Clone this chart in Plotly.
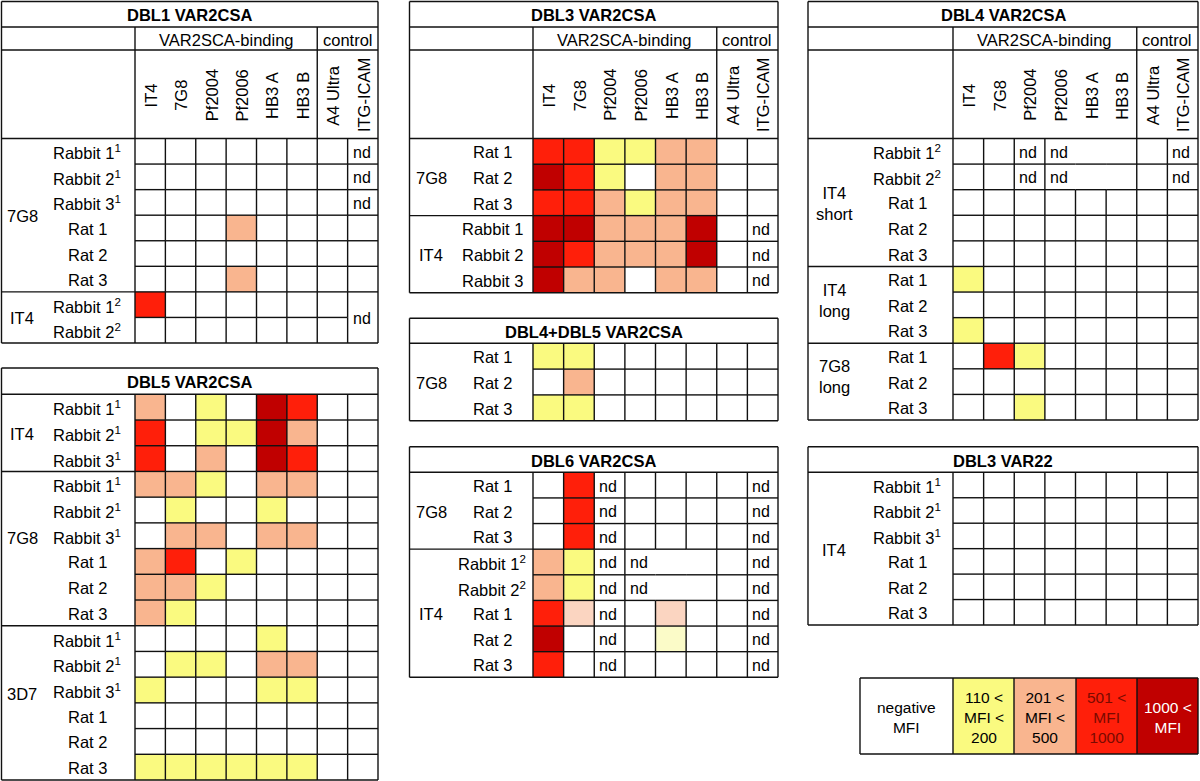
import plotly.graph_objects as go

# ---------------- data ----------------
COLUMNS = ["IT4", "7G8", "Pf2004", "Pf2006", "HB3 A", "HB3 B", "A4 Ultra", "ITG-ICAM"]
COLUMN_GROUPS = [("VAR2SCA-binding", 0, 6), ("control", 6, 8)]

# reactivity levels: "-" negative, y 110-200, o 201-500, r 501-1000, d >1000,
# lo / ly faint shades, nd not determined
LEVELS = ["-", "y", "o", "r", "d", "lo", "ly"]
LEVEL_COLORS = ["#FFFFFF", "#FAFA80", "#F9B58F", "#FF1F0A", "#C00000", "#FBD5C1", "#FBFBC8"]

LEGEND_LEVELS = ["-", "y", "o", "r", "d"]
LEGEND_LABELS = ["negative<br>MFI", "110 &lt;<br>MFI &lt;<br>200", "201 &lt;<br>MFI &lt;<br>500",
                 "501 &lt;<br>MFI<br>1000", "1000 &lt;<br>MFI"]
LEGEND_TEXT_COLORS = ["#000000", "#000000", "#000000", "#7A0A00", "#FFFFFF"]

R1a, R2a, R3a = "Rabbit 1<sup>1</sup>", "Rabbit 2<sup>1</sup>", "Rabbit 3<sup>1</sup>"
R1b, R2b = "Rabbit 1<sup>2</sup>", "Rabbit 2<sup>2</sup>"
RATS = ["Rat 1", "Rat 2", "Rat 3"]

DBL1_TITLE = "DBL1 VAR2CSA"
DBL1_GROUPS = ["7G8", "IT4"]
DBL1_ROWS = [[R1a, R2a, R3a] + RATS, [R1b, R2b]]
DBL1_CELLS = [
    ["-", "-", "-", "-", "-", "-", "-", "nd"],
    ["-", "-", "-", "-", "-", "-", "-", "nd"],
    ["-", "-", "-", "-", "-", "-", "-", "nd"],
    ["-", "-", "-", "o", "-", "-", "-", "-"],
    ["-", "-", "-", "-", "-", "-", "-", "-"],
    ["-", "-", "-", "o", "-", "-", "-", "-"],
    ["r", "-", "-", "-", "-", "-", "-", "nd"],
    ["-", "-", "-", "-", "-", "-", "-", "nd"],
]
DBL1_MERGES = [(6, 7, 7, 7)]

DBL5_TITLE = "DBL5 VAR2CSA"
DBL5_GROUPS = ["IT4", "7G8", "3D7"]
DBL5_ROWS = [[R1a, R2a, R3a], [R1a, R2a, R3a] + RATS, [R1a, R2a, R3a] + RATS]
DBL5_CELLS = [
    ["o", "-", "y", "-", "d", "r", "-", "-"],
    ["r", "-", "y", "y", "d", "o", "-", "-"],
    ["r", "-", "o", "-", "d", "r", "-", "-"],
    ["o", "o", "y", "-", "o", "o", "-", "-"],
    ["-", "y", "-", "-", "y", "-", "-", "-"],
    ["-", "o", "o", "-", "o", "o", "-", "-"],
    ["o", "r", "-", "y", "-", "-", "-", "-"],
    ["o", "o", "y", "-", "-", "-", "-", "-"],
    ["o", "y", "-", "-", "-", "-", "-", "-"],
    ["-", "-", "-", "-", "y", "-", "-", "-"],
    ["-", "y", "y", "-", "o", "o", "-", "-"],
    ["y", "-", "-", "-", "y", "y", "-", "-"],
    ["-", "-", "-", "-", "-", "-", "-", "-"],
    ["-", "-", "-", "-", "-", "-", "-", "-"],
    ["y", "y", "y", "y", "y", "y", "-", "-"],
]
DBL5_MERGES = []

DBL3_TITLE = "DBL3 VAR2CSA"
DBL3_GROUPS = ["7G8", "IT4"]
DBL3_ROWS = [RATS, ["Rabbit 1", "Rabbit 2", "Rabbit 3"]]
DBL3_CELLS = [
    ["r", "r", "y", "y", "o", "o", "-", "-"],
    ["d", "r", "y", "-", "o", "o", "-", "-"],
    ["r", "r", "o", "y", "o", "o", "-", "-"],
    ["d", "d", "o", "o", "o", "d", "-", "nd"],
    ["d", "r", "o", "o", "o", "d", "-", "nd"],
    ["d", "o", "o", "-", "o", "o", "-", "nd"],
]
DBL3_MERGES = []

DBL45_TITLE = "DBL4+DBL5 VAR2CSA"
DBL45_GROUPS = ["7G8"]
DBL45_ROWS = [RATS]
DBL45_CELLS = [
    ["y", "y", "-", "-", "-", "-", "-", "-"],
    ["-", "o", "-", "-", "-", "-", "-", "-"],
    ["y", "y", "-", "-", "-", "-", "-", "-"],
]
DBL45_MERGES = []

DBL6_TITLE = "DBL6 VAR2CSA"
DBL6_GROUPS = ["7G8", "IT4"]
DBL6_ROWS = [RATS, [R1b, R2b] + RATS]
DBL6_CELLS = [
    ["-", "r", "nd", "-", "-", "-", "-", "nd"],
    ["-", "r", "nd", "-", "-", "-", "-", "nd"],
    ["-", "r", "nd", "-", "-", "-", "-", "nd"],
    ["o", "y", "nd", "nd", "-", "-", "-", "nd"],
    ["o", "y", "nd", "nd", "-", "-", "-", "nd"],
    ["r", "lo", "nd", "-", "lo", "-", "-", "nd"],
    ["d", "-", "nd", "-", "ly", "-", "-", "nd"],
    ["r", "-", "nd", "-", "-", "-", "-", "nd"],
]
DBL6_MERGES = [(3, 3, 3, 5), (4, 3, 4, 5)]

DBL4_TITLE = "DBL4 VAR2CSA"
DBL4_GROUPS = ["IT4<br>short", "IT4<br>long", "7G8<br>long"]
DBL4_ROWS = [[R1b, R2b] + RATS, RATS, RATS]
DBL4_CELLS = [
    ["-", "-", "nd", "nd", "-", "-", "-", "nd"],
    ["-", "-", "nd", "nd", "-", "-", "-", "nd"],
    ["-", "-", "-", "-", "-", "-", "-", "-"],
    ["-", "-", "-", "-", "-", "-", "-", "-"],
    ["-", "-", "-", "-", "-", "-", "-", "-"],
    ["y", "-", "-", "-", "-", "-", "-", "-"],
    ["-", "-", "-", "-", "-", "-", "-", "-"],
    ["y", "-", "-", "-", "-", "-", "-", "-"],
    ["-", "r", "y", "-", "-", "-", "-", "-"],
    ["-", "-", "-", "-", "-", "-", "-", "-"],
    ["-", "-", "y", "-", "-", "-", "-", "-"],
]
DBL4_MERGES = [(0, 3, 0, 5), (1, 3, 1, 5)]

VAR22_TITLE = "DBL3 VAR22"
VAR22_GROUPS = ["IT4"]
VAR22_ROWS = [[R1a, R2a, R3a] + RATS]
VAR22_CELLS = [["-"] * 8 for _ in range(6)]
VAR22_MERGES = []

# ---------------- layout geometry (page pixels) ----------------
G_DBL1 = dict(x0=1.5, x1=378, y0=1.5, tb=27, h1=50, h2=138.5, y1=343, lab=135, gcx=22, rcx=87)
G_DBL5 = dict(x0=1.5, x1=378, y0=368, tb=394.3, y1=780, lab=135, gcx=22, rcx=87, gdy=[0, -12, -10])
G_DBL3 = dict(x0=409.5, x1=778, y0=1.5, tb=27, h1=50, h2=138.5, y1=292.7, lab=533, gcx=431, rcx=492)
G_DBL45 = dict(x0=409.5, x1=778, y0=318.3, tb=343.3, y1=420.7, lab=533, gcx=431, rcx=492)
G_DBL6 = dict(x0=409.5, x1=778, y0=446.7, tb=472.3, y1=677.3, lab=533, gcx=431, rcx=492)
G_DBL4 = dict(x0=808, x1=1198, y0=1.5, tb=27, h1=50, h2=138.5, y1=420, lab=953, gcx=834, rcx=907, gdy=[0, -5, -6])
G_VAR22 = dict(x0=808, x1=1198, y0=446.7, tb=472.3, y1=625, lab=953, gcx=834, rcx=907)
G_LEGEND = dict(xe=[860, 953, 1014, 1076, 1137, 1198], y0=678, y1=754)

FONT = "Arial, 'Liberation Sans', sans-serif"
TXT = 16.5
LINE_COLOR = "#111111"
LW = 1.4

n = len(LEVELS)
COLORSCALE = []
for k, c in enumerate(LEVEL_COLORS):
    COLORSCALE.append([k / n, c])
    COLORSCALE.append([(k + 1) / n, c])

traces = []
annotations = []
lx, ly = [], []


def seg(xa, ya, xb, yb):
    lx.extend([xa, xb, None])
    ly.extend([ya, yb, None])


def ann(x, y, text, size=TXT, **kw):
    d = dict(x=x, y=y, xref="x", yref="y", text=text, showarrow=False,
             font=dict(family=FONT, size=size, color=kw.pop("color", "#000000")))
    d.update(kw)
    annotations.append(d)


def panel(title, groups, rows, cells, merges, g, header):
    x0, x1, y0, tb, lab = g["x0"], g["x1"], g["y0"], g["tb"], g["lab"]
    ncol = len(COLUMNS)
    cw = (x1 - lab) / ncol
    ystart = g["h2"] if header else tb
    nrows = sum(len(r) for r in rows)
    rh = (g["y1"] - ystart) / nrows
    xe = [lab + i * cw for i in range(ncol + 1)]
    ye = [ystart + j * rh for j in range(nrows + 1)]
    z = [[LEVELS.index("-" if c == "nd" else c) for c in row] for row in cells]
    traces.append(go.Heatmap(x=xe, y=ye, z=z, zmin=-0.5, zmax=n - 0.5, colorscale=COLORSCALE,
                             showscale=False, hoverinfo="skip"))
    # merge map
    mid = [[None] * ncol for _ in range(nrows)]
    for k, (r0, c0, r1, c1) in enumerate(merges):
        for r in range(r0, r1 + 1):
            for c in range(c0, c1 + 1):
                mid[r][c] = k
    # outer box & title
    seg(x0, y0, x1, y0); seg(x0, g["y1"], x1, g["y1"])
    seg(x0, y0, x0, g["y1"]); seg(x1, y0, x1, g["y1"])
    seg(x0, tb, x1, tb)
    ann((x0 + x1) / 2, (y0 + tb) / 2 + 1, "<b>%s</b>" % title, size=16.5)
    seg(lab, tb, lab, g["y1"])
    if header:
        seg(x0, g["h1"], x1, g["h1"])
        seg(x0, g["h2"], x1, g["h2"])
        for name, a, b in COLUMN_GROUPS:
            if a > 0:
                seg(xe[a], tb, xe[a], g["h2"])
            ann((xe[a] + xe[b]) / 2, (tb + g["h1"]) / 2 + 1, name)
        for i, col in enumerate(COLUMNS):
            ann((xe[i] + xe[i + 1]) / 2 + 1, (g["h1"] + g["h2"]) / 2 + 1, col, size=16.5, textangle=-90)
    # group boundaries
    starts = []
    r = 0
    for grp in rows:
        starts.append(r)
        r += len(grp)
    for s in starts[1:]:
        seg(x0, ye[s], lab, ye[s])
    # cell grid
    for r in range(nrows):
        for c in range(ncol):
            if r > 0 and not (mid[r][c] is not None and mid[r][c] == mid[r - 1][c]):
                seg(xe[c], ye[r], xe[c + 1], ye[r])
            if c > 0 and not (mid[r][c] is not None and mid[r][c] == mid[r][c - 1]):
                seg(xe[c], ye[r], xe[c], ye[r + 1])
    # nd texts
    for r in range(nrows):
        for c in range(ncol):
            if cells[r][c] != "nd":
                continue
            k = mid[r][c]
            if k is not None:
                r0, c0, r1, c1 = merges[k]
                if (r, c) != (r0, c0):
                    continue
                yc = (ye[r0] + ye[r1 + 1]) / 2
            else:
                yc = (ye[r] + ye[r + 1]) / 2
            ann(xe[c] + 3, yc + 1, "nd", size=16, xanchor="left")
    # labels
    gdy = g.get("gdy", [0] * len(groups))
    for gi, (gname, grp) in enumerate(zip(groups, rows)):
        s = starts[gi]
        ann(g["gcx"], (ye[s] + ye[s + len(grp)]) / 2 + 1 + gdy[gi], gname)
        for j, lbl in enumerate(grp):
            ann(g["rcx"], (ye[s + j] + ye[s + j + 1]) / 2 + 1, lbl)


panel(DBL1_TITLE, DBL1_GROUPS, DBL1_ROWS, DBL1_CELLS, DBL1_MERGES, G_DBL1, True)
panel(DBL5_TITLE, DBL5_GROUPS, DBL5_ROWS, DBL5_CELLS, DBL5_MERGES, G_DBL5, False)
panel(DBL3_TITLE, DBL3_GROUPS, DBL3_ROWS, DBL3_CELLS, DBL3_MERGES, G_DBL3, True)
panel(DBL45_TITLE, DBL45_GROUPS, DBL45_ROWS, DBL45_CELLS, DBL45_MERGES, G_DBL45, False)
panel(DBL6_TITLE, DBL6_GROUPS, DBL6_ROWS, DBL6_CELLS, DBL6_MERGES, G_DBL6, False)
panel(DBL4_TITLE, DBL4_GROUPS, DBL4_ROWS, DBL4_CELLS, DBL4_MERGES, G_DBL4, True)
panel(VAR22_TITLE, VAR22_GROUPS, VAR22_ROWS, VAR22_CELLS, VAR22_MERGES, G_VAR22, False)

# legend
xe = G_LEGEND["xe"]
ly0, ly1 = G_LEGEND["y0"], G_LEGEND["y1"]
traces.append(go.Heatmap(x=xe, y=[ly0, ly1], z=[[LEVELS.index(v) for v in LEGEND_LEVELS]],
                         zmin=-0.5, zmax=n - 0.5, colorscale=COLORSCALE, showscale=False,
                         hoverinfo="skip"))
seg(xe[0], ly0, xe[-1], ly0); seg(xe[0], ly1, xe[-1], ly1)
for xv in xe:
    seg(xv, ly0, xv, ly1)
for i, (lbl, tc) in enumerate(zip(LEGEND_LABELS, LEGEND_TEXT_COLORS)):
    ann((xe[i] + xe[i + 1]) / 2, (ly0 + ly1) / 2 + 1, lbl, size=15.5, color=tc)

traces.append(go.Scatter(x=lx, y=ly, mode="lines", line=dict(color=LINE_COLOR, width=LW),
                         hoverinfo="skip", showlegend=False))

fig = go.Figure(traces)
fig.update_layout(
    width=1200, height=781, margin=dict(l=0, r=0, t=0, b=0),
    paper_bgcolor="white", plot_bgcolor="white", showlegend=False,
    xaxis=dict(range=[0, 1200], visible=False, fixedrange=True),
    yaxis=dict(range=[781, 0], visible=False, fixedrange=True),
    annotations=annotations,
)
fig.write_html("out.html", config={"displayModeBar": False},
               post_script="document.body.style.margin='0';document.body.style.overflow='hidden';")
